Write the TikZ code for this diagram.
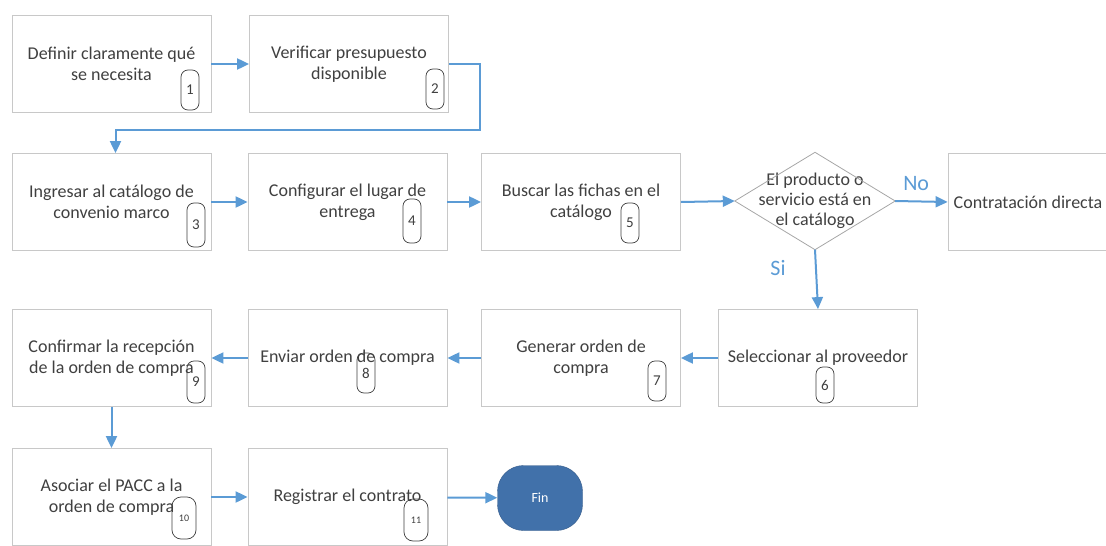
\documentclass[tikz,border=0pt]{standalone}
\usepackage{fontspec}
\setmainfont{Carlito}
\usetikzlibrary{arrows.meta}
\definecolor{azul}{RGB}{91,155,213}
\definecolor{borde}{RGB}{200,200,200}
\definecolor{texto}{RGB}{64,64,64}
\definecolor{azulfin}{RGB}{65,113,170}

\begin{document}
\begin{tikzpicture}[x=1pt, y=-1pt,
  paso/.style={draw=borde, line width=0.8pt, fill=white, minimum width=199pt, minimum height=97pt,
    align=center, text=texto, inner sep=0pt, font=\fontsize{18}{21}\selectfont},
  num/.style={draw=texto, line width=0.7pt, rounded corners=7pt, minimum width=18pt, minimum height=40pt,
    inner sep=0pt, text=texto, font=\fontsize{15}{15}\selectfont},
  numdos/.style={num, minimum width=24pt, minimum height=42pt, rounded corners=9pt, font=\fontsize{10}{10}\selectfont},
  flecha/.style={draw=azul, line width=2pt, -{Triangle[length=12pt,width=11pt]}},
  rama/.style={text=azul, font=\fontsize{22}{22}\selectfont}]
\useasboundingbox (0,0) rectangle (1106,546);
% pasos
\node[paso] (p1) at (111.5,64) {Definir claramente qué\\se necesita};
\node[paso] (p2) at (349,64) {Verificar presupuesto\\disponible};
\node[paso] (p3) at (111.5,202) {Ingresar al catálogo de\\convenio marco};
\node[paso] (p4) at (347.5,202) {Configurar el lugar de\\entrega};
\node[paso] (p5) at (581,202) {Buscar las fichas en el\\catálogo};
\node[text=texto, minimum width=160pt, minimum height=97pt, align=center, inner sep=0pt,
  font=\fontsize{18}{20}\selectfont] (dec) at (815,201) {El producto o\\servicio está en\\el catálogo};
\draw[draw=gray!70, line width=0.8pt] (dec.west) -- (dec.north) -- (dec.east) -- (dec.south) -- cycle;
\node[paso, minimum width=160pt] (dir) at (1028,202) {Contratación directa};
\node[paso] (p6) at (818,358) {Seleccionar al proveedor};
\node[paso] (p7) at (581,358) {Generar orden de\\compra};
\node[paso] (p8) at (347.5,358) {Enviar orden de compra};
\node[paso] (p9) at (111.5,358) {Confirmar la recepción\\de la orden de compra};
\node[paso] (p10) at (111.5,497) {Asociar el PACC a la\\orden de compra};
\node[paso] (p11) at (347.5,497) {Registrar el contrato};
\node[draw=azulfin!80!black, fill=azulfin, rounded corners=26pt, minimum width=85pt, minimum height=65pt,
  text=white, font=\fontsize{14}{14}\selectfont] (fin) at (540,498) {Fin};
% numeros
\node[num] (n1) at (190,90) {1};
\node[num] (n2) at (435,89) {2};
\node[num, minimum height=44pt] (n3) at (196,225) {3};
\node[num, minimum height=44pt] (n4) at (412,221) {4};
\node[num] (n5) at (630,223) {5};
\node[num, minimum height=36pt] (n6) at (825,385) {6};
\node[num] (n7) at (657,381) {7};
\node[num] (n8) at (366,373) {8};
\node[num, minimum height=42pt] (n9) at (196,382) {9};
\node[numdos] (n10) at (184,518) {10};
\node[numdos] (n11) at (416,520) {11};
% conectores
\coordinate (giro) at (480,130);
\draw[flecha] (p1) -- (p2);
\draw[flecha] (p2.east) -| (giro) -| ([xshift=4pt]p3.north);
\draw[flecha] (p3) -- (p4);
\draw[flecha] (p4) -- (p5);
\draw[flecha] (p5.east) -- (dec.west);
\draw[flecha] (dec.east) -- (dir.west) node[rama, pos=0.4, above=6pt] {No};
\draw[flecha] (dec.south) -- (p6.north) node[rama, pos=0.3, left=26pt] {Si};
\draw[flecha] (p6) -- (p7);
\draw[flecha] (p7) -- (p8);
\draw[flecha] (p8) -- (p9);
\draw[flecha] (p9) -- (p10);
\draw[flecha] (p10) -- (p11);
\draw[flecha] (p11) -- (fin);
\end{tikzpicture}
\end{document}
